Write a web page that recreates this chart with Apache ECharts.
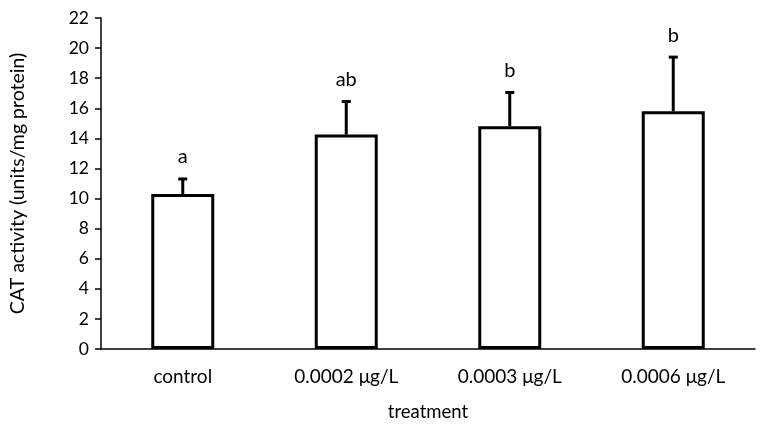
<!DOCTYPE html>
<html>
<head>
<meta charset="utf-8">
<script src="https://cdn.jsdelivr.net/npm/echarts@6/dist/echarts.min.js"></script>
<style>
html,body{margin:0;padding:0;background:#fff;}
#chart{width:767px;height:426px;}
</style>
</head>
<body>
<div id="chart"></div>
<script>
var categories = ['control', '0.0002 μg/L', '0.0003 μg/L', '0.0006 μg/L'];
var means = [10.3, 14.25, 14.8, 15.8];
var errors = [1.0, 2.2, 2.25, 3.6];
var letters = ['a', 'ab', 'b', 'b'];
var yTicks = [0, 2, 4, 6, 8, 10, 12, 14, 16, 18, 20, 22];

var FONT = 'Lato';
var chart = echarts.init(document.getElementById('chart'));

var errData = means.map(function (m, i) { return [i, m, m + errors[i], letters[i]]; });

chart.setOption({
  animation: false,
  backgroundColor: '#fff',
  grid: { left: 101, right: 12, top: 18, bottom: 77, containLabel: false, outerBoundsMode: 'none' },
  xAxis: {
    type: 'category',
    data: categories,
    name: 'treatment',
    nameLocation: 'middle',
    nameGap: 54,
    nameTextStyle: { fontFamily: FONT, fontSize: 18.5, color: '#000' },
    axisLine: { lineStyle: { color: '#000', width: 1.5 } },
    axisTick: { show: false },
    axisLabel: { fontFamily: FONT, fontSize: 19, color: '#000', margin: 18 }
  },
  yAxis: {
    type: 'value',
    min: yTicks[0],
    max: yTicks[yTicks.length - 1],
    interval: 2,
    name: 'CAT activity (units/mg protein)',
    nameLocation: 'middle',
    nameGap: 73,
    nameTextStyle: { fontFamily: FONT, fontSize: 19.5, color: '#000' },
    splitLine: { show: false },
    axisLine: { show: true, lineStyle: { color: '#000', width: 1.5 } },
    axisTick: { show: true, length: 6, lineStyle: { color: '#000', width: 1.5 } },
    axisLabel: { fontFamily: FONT, fontSize: 17.5, color: '#000', margin: 12 }
  },
  series: [
    {
      type: 'bar',
      data: means,
      barWidth: 63,
      itemStyle: { color: '#fff', borderColor: '#000', borderWidth: 3 },
      z: 2
    },
    {
      type: 'custom',
      data: errData,
      z: 3,
      renderItem: function (params, api) {
        var x = api.value(0);
        var base = api.coord([x, api.value(1)]);
        var top = api.coord([x, api.value(2)]);
        var capHalf = 4.5;
        return {
          type: 'group',
          children: [
            { type: 'line', shape: { x1: base[0], y1: base[1], x2: top[0], y2: top[1] },
              style: { stroke: '#000', lineWidth: 3 } },
            { type: 'line', shape: { x1: top[0] - capHalf, y1: top[1], x2: top[0] + capHalf, y2: top[1] },
              style: { stroke: '#000', lineWidth: 3 } },
            { type: 'text', x: top[0], y: top[1] - 22,
              style: { text: api.value(3), fontFamily: FONT, fontSize: 20, fill: '#000',
                       align: 'center', verticalAlign: 'middle' } }
          ]
        };
      }
    }
  ]
});
</script>
</body>
</html>
